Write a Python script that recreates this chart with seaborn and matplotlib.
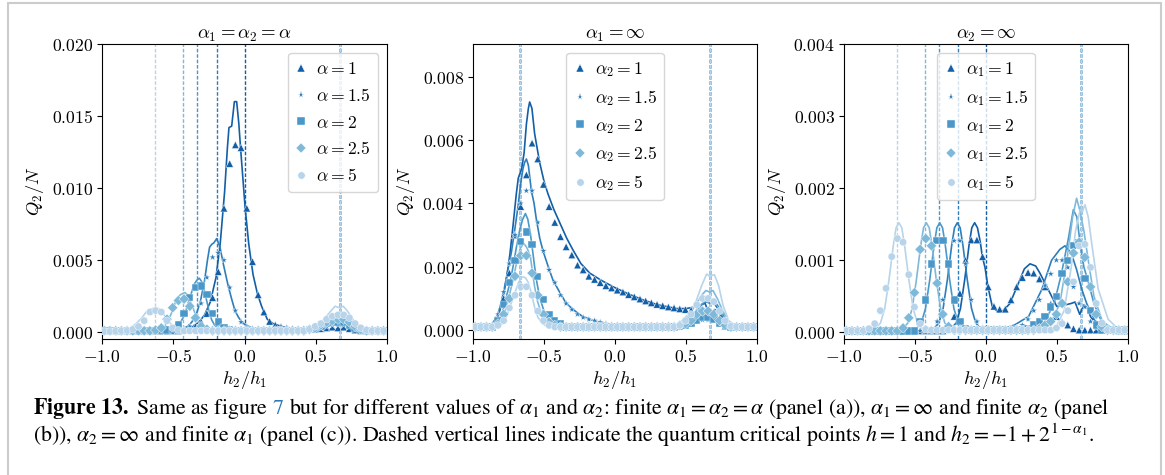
import pandas as pd
import matplotlib
matplotlib.use("Agg")
import matplotlib.pyplot as plt
from matplotlib.patches import Rectangle
from matplotlib.ticker import FuncFormatter, MultipleLocator
import seaborn as sns

# ---------------- data ----------------
a_names = [r"$\alpha=1$", r"$\alpha=1.5$", r"$\alpha=2$", r"$\alpha=2.5$", r"$\alpha=5$"]
b_names = [r"$\alpha_2=1$", r"$\alpha_2=1.5$", r"$\alpha_2=2$", r"$\alpha_2=2.5$", r"$\alpha_2=5$"]
c_names = [r"$\alpha_1=1$", r"$\alpha_1=1.5$", r"$\alpha_1=2$", r"$\alpha_1=2.5$", r"$\alpha_1=5$"]

# critical points h2 = -1 + 2^(1-alpha), in units of the x axis
a_crit = [0.0, -0.195, -0.333, -0.431, -0.625]
c_crit = [0.0, -0.195, -0.333, -0.431, -0.625]
b_crit = [-0.667, -0.667, -0.667, -0.667, -0.667]
h_crit = 0.667

# positions of the finite size points (same for every series)
marker_h = [-0.984, -0.944, -0.904, -0.864, -0.824, -0.784, -0.744, -0.704, -0.664, -0.624,
            -0.584, -0.544, -0.504, -0.464, -0.424, -0.384, -0.344, -0.304, -0.264, -0.224,
            -0.184, -0.144, -0.104, -0.064, -0.024, 0.016, 0.056, 0.096, 0.136, 0.176,
            0.216, 0.256, 0.296, 0.336, 0.376, 0.416, 0.456, 0.496, 0.536, 0.576,
            0.616, 0.656, 0.696, 0.736, 0.776, 0.816, 0.856, 0.896, 0.936, 0.976]

# panel (a): alpha1 = alpha2 = alpha
a_h1 = [-1.0, -0.6, -0.45, -0.38, -0.32, -0.28, -0.24, -0.2, -0.17, -0.14, -0.12, -0.109, -0.09, -0.071,
        -0.055, -0.04, -0.027, -0.01, 0.004, 0.03, 0.06, 0.09, 0.12, 0.16, 0.2, 0.26, 0.35, 0.45, 0.52,
        0.58, 0.63, 0.66, 0.7, 0.75, 0.82, 0.9, 1.0]
a_q1 = [0.0001, 0.0001, 0.00015, 0.0003, 0.0007, 0.0012, 0.0021, 0.0038, 0.0062, 0.0097, 0.0128, 0.0142,
        0.0143, 0.0160, 0.0160, 0.0145, 0.0127, 0.0105, 0.0087, 0.0061, 0.0040, 0.0027, 0.0018, 0.0009,
        0.0006, 0.0004, 0.00025, 0.0002, 0.0003, 0.0004, 0.0005, 0.00045, 0.0005, 0.0003, 0.00015, 0.0001, 0.0001]
a_h15 = [-1.0, -0.6, -0.5, -0.44, -0.4, -0.37, -0.34, -0.31, -0.28, -0.26, -0.245, -0.23, -0.215, -0.195,
         -0.172, -0.15, -0.13, -0.114, -0.09, -0.067, -0.04, -0.008, 0.05, 0.1, 0.2, 0.35, 0.45, 0.52, 0.58,
         0.63, 0.66, 0.7, 0.75, 0.82, 0.9, 1.0]
a_q15 = [0.0001, 0.0001, 0.00012, 0.0002, 0.0004, 0.0007, 0.0012, 0.0021, 0.0036, 0.0050, 0.0059, 0.0061,
         0.0062, 0.0065, 0.0059, 0.0048, 0.0039, 0.0032, 0.0023, 0.0015, 0.0010, 0.0006, 0.0003, 0.0002,
         0.00015, 0.00015, 0.0002, 0.0004, 0.0006, 0.0008, 0.00075, 0.0008, 0.0005, 0.0002, 0.0001, 0.0001]
a_h2 = [-1.0, -0.65, -0.55, -0.5, -0.46, -0.42, -0.39, -0.37, -0.355, -0.335, -0.317, -0.3, -0.289, -0.275,
        -0.261, -0.245, -0.23, -0.21, -0.19, -0.15, -0.1, 0.0, 0.2, 0.4, 0.5, 0.56, 0.61, 0.645, 0.667, 0.69,
        0.72, 0.77, 0.83, 0.9, 1.0]
a_q2 = [0.0001, 0.0001, 0.00012, 0.0002, 0.0005, 0.0012, 0.0022, 0.0028, 0.0033, 0.0036, 0.00375, 0.0035,
        0.0032, 0.0026, 0.0020, 0.0013, 0.00085, 0.0005, 0.0003, 0.00018, 0.00012, 0.0001, 0.0001, 0.00015,
        0.0003, 0.0006, 0.0009, 0.0011, 0.00105, 0.0011, 0.0009, 0.0005, 0.0002, 0.0001, 0.0001]
a_h25 = [-1.0, -0.75, -0.65, -0.6, -0.56, -0.523, -0.5, -0.488, -0.47, -0.45, -0.43, -0.418, -0.4, -0.382,
         -0.365, -0.347, -0.33, -0.312, -0.28, -0.24, -0.1, 0.2, 0.45, 0.52, 0.58, 0.62, 0.645, 0.667, 0.69,
         0.72, 0.77, 0.83, 0.9, 1.0]
a_q25 = [0.0001, 0.0001, 0.00012, 0.0002, 0.0004, 0.0011, 0.0016, 0.0020, 0.0024, 0.0026, 0.0027, 0.00275,
         0.0026, 0.0022, 0.0018, 0.0013, 0.0008, 0.0005, 0.0002, 0.00012, 0.0001, 0.0001, 0.0002, 0.0005,
         0.0009, 0.0012, 0.0013, 0.00125, 0.0013, 0.0011, 0.0007, 0.0003, 0.00012, 0.0001]
a_h5 = [-1.0, -0.9, -0.85, -0.8, -0.76, -0.72, -0.69, -0.66, -0.635, -0.615, -0.595, -0.57, -0.545, -0.52,
        -0.49, -0.46, -0.42, -0.3, 0.0, 0.3, 0.45, 0.5, 0.55, 0.6, 0.635, 0.667, 0.693, 0.72, 0.76, 0.8,
        0.85, 0.9, 1.0]
a_q5 = [0.00005, 0.0001, 0.00015, 0.0003, 0.0006, 0.0010, 0.0014, 0.0016, 0.00167, 0.00168, 0.0016, 0.0013,
        0.0009, 0.0006, 0.0003, 0.00017, 0.0001, 0.0001, 0.0001, 0.0001, 0.0002, 0.0004, 0.0008, 0.0014,
        0.0018, 0.0017, 0.0018, 0.0015, 0.0009, 0.0004, 0.00015, 0.0001, 0.0001]

a_m1 = [0.00008] * 10 + [0.00008, 0.00008, 0.0001, 0.0001, 0.00015, 0.00025, 0.0004, 0.0007, 0.0013, 0.0024,
        0.0042, 0.0086, 0.0117, 0.0130, 0.0128, 0.0086, 0.0049, 0.0026, 0.0014, 0.00075,
        0.0005, 0.00037, 0.0003, 0.00025, 0.0002, 0.0002, 0.0002, 0.0002, 0.00025, 0.0003,
        0.00035, 0.0003, 0.00035, 0.00025, 0.00015, 0.0001, 0.0001, 0.0001, 0.0001, 0.0001]
a_m15 = [0.0001] * 10 + [0.0001, 0.0001, 0.0001, 0.00012, 0.0002, 0.0004, 0.0009, 0.0020, 0.0038, 0.0052,
         0.0055, 0.0050, 0.0031, 0.0015, 0.0007, 0.0004, 0.00025, 0.0002, 0.00012, 0.00012,
         0.00012, 0.00012, 0.00012, 0.00012, 0.00012, 0.00012, 0.00015, 0.0002, 0.0003, 0.0004,
         0.0005, 0.0005, 0.0005, 0.0004, 0.0002, 0.0001, 0.0001, 0.0001, 0.0001, 0.0001]
a_m2 = [0.0001] * 10 + [0.0001, 0.00015, 0.0002, 0.0005, 0.0013, 0.0024, 0.0031, 0.0032, 0.0026, 0.0013,
        0.0007, 0.00035, 0.0002, 0.00012, 0.00012, 0.00012, 0.00012, 0.00012, 0.00012, 0.00012,
        0.00012, 0.00012, 0.00012, 0.00012, 0.00012, 0.00012, 0.0002, 0.0003, 0.0004, 0.0006,
        0.0007, 0.0007, 0.0007, 0.0005, 0.0003, 0.00015, 0.0001, 0.0001, 0.0001, 0.0001]
a_m25 = [0.0001] * 9 + [0.00015, 0.0003, 0.0009, 0.0017, 0.0022, 0.0023, 0.0018, 0.0010, 0.0004, 0.0002, 0.0001] \
        + [0.0001] * 16 + [0.0002, 0.0003, 0.0005, 0.0007,
                           0.0008, 0.0009, 0.0009, 0.0007, 0.0004, 0.0002, 0.0001, 0.0001, 0.0001, 0.0001]
a_m5 = [0.00005, 0.00005, 0.00008, 0.0001, 0.00012, 0.0002, 0.0004, 0.0008, 0.0014, 0.0015,
        0.0014, 0.0008, 0.0003, 0.00015] + [0.0001] * 22 + [0.0002, 0.0004, 0.0006, 0.0009,
        0.0011, 0.0012, 0.0012, 0.0010, 0.0006, 0.0003, 0.00015, 0.0001, 0.0001, 0.0001]

# panel (b): alpha1 = infinity
b_h1 = [-1.0, -0.9, -0.86, -0.812, -0.79, -0.765, -0.74, -0.718, -0.695, -0.681, -0.657, -0.64, -0.624,
        -0.61, -0.601, -0.585, -0.566, -0.531, -0.5, -0.472, -0.43, -0.39, -0.34, -0.296, -0.24, -0.178,
        -0.1, -0.014, 0.1, 0.2, 0.3, 0.434, 0.5, 0.575, 0.634, 0.655, 0.675, 0.7, 0.72, 0.75, 0.787, 0.85,
        0.9, 1.0]
b_q1 = [0.0001, 0.0001, 0.0002, 0.0006, 0.0010, 0.0016, 0.0024, 0.0033, 0.0043, 0.0048, 0.0051, 0.0056,
        0.0065, 0.0070, 0.0072, 0.0070, 0.0062, 0.0053, 0.0047, 0.0043, 0.0038, 0.0034, 0.0029, 0.00253,
        0.0021, 0.0018, 0.00158, 0.00137, 0.00113, 0.00095, 0.0008, 0.00068, 0.00068, 0.00074, 0.00085,
        0.0006, 0.0005, 0.00065, 0.0006, 0.0004, 0.0002, 0.0001, 0.00008, 0.00005]
b_h15 = [-1.0, -0.9, -0.88, -0.85, -0.824, -0.8, -0.777, -0.75, -0.73, -0.705, -0.683, -0.665, -0.648,
         -0.636, -0.624, -0.61, -0.589, -0.57, -0.554, -0.53, -0.507, -0.47, -0.437, -0.39, -0.343, -0.28,
         -0.225, -0.15, -0.061, 0.1, 0.3, 0.45, 0.52, 0.57, 0.61, 0.64, 0.667, 0.69, 0.72, 0.76, 0.8, 0.87, 1.0]
b_q15 = [0.0001, 0.0001, 0.00012, 0.0003, 0.0005, 0.0009, 0.00137, 0.0020, 0.00245, 0.0032, 0.0039, 0.0046,
         0.0051, 0.0053, 0.0054, 0.0052, 0.0044, 0.0040, 0.0035, 0.0029, 0.0025, 0.0020, 0.00158, 0.0012,
         0.00084, 0.0006, 0.00042, 0.0003, 0.0002, 0.00015, 0.00012, 0.0002, 0.0004, 0.0006, 0.0008, 0.0009,
         0.00085, 0.0009, 0.0007, 0.0004, 0.0002, 0.0001, 0.00005]
b_h2 = [-1.0, -0.9, -0.85, -0.812, -0.79, -0.765, -0.74, -0.718, -0.695, -0.671, -0.65, -0.631, -0.614,
        -0.596, -0.58, -0.566, -0.55, -0.531, -0.5, -0.472, -0.43, -0.35, -0.2, 0.1, 0.35, 0.45, 0.52, 0.57,
        0.61, 0.64, 0.667, 0.69, 0.72, 0.76, 0.8, 0.87, 1.0]
b_q2 = [0.0001, 0.0001, 0.00015, 0.0003, 0.0006, 0.00105, 0.0015, 0.0020, 0.0026, 0.00316, 0.0035, 0.00368,
        0.0035, 0.00305, 0.0025, 0.0020, 0.0015, 0.00105, 0.0006, 0.0003, 0.00018, 0.00012, 0.0001, 0.0001,
        0.0001, 0.0002, 0.0004, 0.0006, 0.0008, 0.00095, 0.0009, 0.00095, 0.0008, 0.0005, 0.0002, 0.0001, 0.00005]
b_h25 = [-1.0, -0.9, -0.85, -0.8, -0.777, -0.75, -0.718, -0.69, -0.665, -0.643, -0.62, -0.596, -0.58,
         -0.566, -0.545, -0.519, -0.49, -0.45, -0.35, 0.0, 0.35, 0.45, 0.52, 0.57, 0.61, 0.64, 0.667, 0.69,
         0.72, 0.76, 0.8, 0.87, 1.0]
b_q25 = [0.0001, 0.0001, 0.00015, 0.0003, 0.00053, 0.0010, 0.00158, 0.0022, 0.0026, 0.00274, 0.0026,
         0.00232, 0.0018, 0.00137, 0.0009, 0.00053, 0.0003, 0.00015, 0.0001, 0.0001, 0.0001, 0.0002, 0.0005,
         0.0008, 0.0011, 0.00125, 0.0012, 0.00125, 0.001, 0.0006, 0.00025, 0.0001, 0.00005]
b_h5 = [-1.0, -0.9, -0.85, -0.8, -0.765, -0.735, -0.706, -0.68, -0.66, -0.648, -0.63, -0.61, -0.589, -0.565,
        -0.542, -0.51, -0.47, -0.35, 0.0, 0.35, 0.45, 0.52, 0.57, 0.61, 0.645, 0.667, 0.70, 0.73, 0.76, 0.8,
        0.87, 1.0]
b_q5 = [0.0001, 0.0001, 0.00015, 0.0003, 0.00042, 0.0008, 0.00116, 0.0015, 0.00165, 0.00168, 0.00165,
        0.0015, 0.00116, 0.0007, 0.0004, 0.0002, 0.0001, 0.0001, 0.0001, 0.0001, 0.0002, 0.0005, 0.0009,
        0.0014, 0.00177, 0.0017, 0.00175, 0.0014, 0.0008, 0.0003, 0.0001, 0.00005]

b_m1 = [0.0001, 0.0001, 0.0001, 0.0001, 0.0004, 0.0010, 0.0018, 0.0030, 0.0039, 0.0049,
        0.0059, 0.0054, 0.0046, 0.0039, 0.0034, 0.00295, 0.00263, 0.00237, 0.00205, 0.0019,
        0.0017, 0.0016, 0.0015, 0.0014, 0.00133, 0.00126, 0.0012, 0.00112, 0.00105, 0.00098,
        0.00092, 0.00086, 0.00081, 0.00077, 0.00073, 0.0007, 0.00067, 0.00065, 0.00063, 0.0006,
        0.00055, 0.00048, 0.0004, 0.00025, 0.00012, 0.0001, 0.0001, 0.0001, 0.0001, 0.0001]
b_m15 = [0.0001, 0.0001, 0.0001, 0.0001, 0.0005, 0.0012, 0.0021, 0.0030, 0.0040, 0.0044,
         0.0044, 0.0034, 0.0025, 0.0019, 0.0015, 0.0011, 0.00084, 0.00065, 0.0005, 0.0004,
         0.00034, 0.0003, 0.00025, 0.0002] + [0.00015] * 13 + [0.0002, 0.00025, 0.0003,
         0.00032, 0.00032, 0.0003, 0.0002, 0.00012, 0.0001, 0.0001, 0.0001, 0.0001, 0.0001]
b_m2 = [0.0001, 0.0001, 0.0001, 0.0001, 0.0003, 0.0008, 0.0015, 0.0022, 0.0028, 0.0031,
        0.0027, 0.0017, 0.00097, 0.0005, 0.0003, 0.0002] + [0.0001] * 20 + [0.00012, 0.00015, 0.0002, 0.0003,
        0.0004, 0.0004, 0.00035, 0.0002, 0.00012, 0.0001, 0.0001, 0.0001, 0.0001, 0.0001]
b_m25 = [0.0001, 0.0001, 0.0001, 0.0001, 0.0002, 0.0005, 0.0010, 0.0017, 0.00235, 0.00235,
         0.0018, 0.0011, 0.0005, 0.00025, 0.00015] + [0.0001] * 21 + [0.00015, 0.0002, 0.0003, 0.0005,
         0.0006, 0.0006, 0.0005, 0.0003, 0.00015, 0.0001, 0.0001, 0.0001, 0.0001, 0.0001]
b_m5 = [0.0001, 0.0001, 0.0001, 0.0001, 0.00015, 0.0003, 0.0007, 0.0011, 0.00137, 0.00137,
        0.0011, 0.0006, 0.0003, 0.00015] + [0.0001] * 22 + [0.00015, 0.0003, 0.0005, 0.0008,
        0.0010, 0.0010, 0.0009, 0.0006, 0.0003, 0.00012, 0.0001, 0.0001, 0.0001, 0.0001]

# panel (c): alpha2 = infinity
c_h1 = [-1.0, -0.6, -0.3, -0.25, -0.21, -0.18, -0.15, -0.12, -0.1, -0.08, -0.06, -0.04, -0.026, -0.007,
        0.014, 0.045, 0.087, 0.12, 0.169, 0.228, 0.27, 0.31, 0.35, 0.38, 0.439, 0.498, 0.556, 0.6, 0.627,
        0.66, 0.69, 0.71, 0.74, 0.79, 0.84, 0.92, 1.0]
c_q1 = [0.0, 0.0, 0.00001, 0.00004, 0.00013, 0.00033, 0.00073, 0.0012, 0.00145, 0.00152, 0.00145, 0.00125,
        0.00105, 0.0009, 0.00063, 0.00035, 0.00028, 0.0003, 0.0004, 0.00068, 0.00088, 0.00095, 0.00092,
        0.00082, 0.00059, 0.00036, 0.00038, 0.0004, 0.00042, 0.00025, 0.00038, 0.00035, 0.0002, 0.00012,
        0.0001, 0.00004, 0.00002]
c_h15 = [-1.0, -0.6, -0.42, -0.372, -0.332, -0.302, -0.272, -0.242, -0.222, -0.202, -0.182, -0.162, -0.132,
         -0.102, -0.072, -0.032, 0.1, 0.2, 0.3, 0.392, 0.462, 0.52, 0.556, 0.6, 0.638, 0.674, 0.709, 0.767,
         0.86, 1.0]
c_q15 = [0.0, 0.0, 0.00001, 0.00004, 0.00013, 0.00033, 0.00073, 0.0012, 0.00145, 0.00152, 0.00145, 0.0012,
         0.00073, 0.00033, 0.00013, 0.00004, 0.00004, 0.0001, 0.00022, 0.00059, 0.001, 0.00115, 0.0012,
         0.0011, 0.00087, 0.0006, 0.0004, 0.00016, 0.00005, 0.00002]
c_h2 = [-1.0, -0.65, -0.496, -0.456, -0.426, -0.396, -0.366, -0.346, -0.326, -0.306, -0.286, -0.256, -0.226,
        -0.196, -0.156, 0.0, 0.3, 0.4, 0.48, 0.53, 0.58, 0.615, 0.64, 0.665, 0.69, 0.72, 0.76, 0.82, 0.9, 1.0]
c_q2 = [0.0, 0.0, 0.00004, 0.00013, 0.00033, 0.00073, 0.0012, 0.00145, 0.00152, 0.00145, 0.0012, 0.00073,
        0.00033, 0.00013, 0.00004, 0.00002, 0.00004, 0.0001, 0.0004, 0.0008, 0.0013, 0.0017, 0.0016, 0.0012,
        0.0009, 0.0007, 0.0004, 0.00012, 0.00003, 0.00002]
c_h25 = [-1.0, -0.75, -0.59, -0.55, -0.52, -0.49, -0.46, -0.44, -0.42, -0.40, -0.38, -0.35, -0.32, -0.29,
         -0.25, 0.0, 0.35, 0.45, 0.52, 0.57, 0.61, 0.638, 0.66, 0.69, 0.72, 0.76, 0.82, 0.9, 1.0]
c_q25 = [0.0, 0.0, 0.00004, 0.00013, 0.00033, 0.00073, 0.0012, 0.00145, 0.00152, 0.00145, 0.0012, 0.00073,
         0.00033, 0.00013, 0.00004, 0.00002, 0.00004, 0.0001, 0.0004, 0.001, 0.0016, 0.00186, 0.0017, 0.0014,
         0.001, 0.0005, 0.00015, 0.00004, 0.00002]
c_h5 = [-1.0, -0.9, -0.783, -0.743, -0.713, -0.683, -0.653, -0.633, -0.613, -0.593, -0.573, -0.543, -0.513,
        -0.483, -0.443, 0.0, 0.45, 0.5, 0.55, 0.6, 0.63, 0.663, 0.68, 0.697, 0.72, 0.744, 0.79, 0.86, 0.93, 1.0]
c_q5 = [0.0, 0.00001, 0.00004, 0.00013, 0.00033, 0.00073, 0.0012, 0.00145, 0.00152, 0.00145, 0.0012,
        0.00073, 0.00033, 0.00013, 0.00004, 0.00002, 0.00003, 0.0001, 0.0003, 0.0009, 0.0014, 0.0017,
        0.00168, 0.00177, 0.0016, 0.00124, 0.0006, 0.00018, 0.00005, 0.00002]

c_m1 = [0.00002] * 18 + [0.00006, 0.00022,
        0.00054, 0.0010, 0.00128, 0.00128, 0.00105, 0.00063, 0.00036, 0.00032, 0.00032, 0.00045,
        0.00063, 0.00076, 0.00083, 0.00082, 0.00074, 0.00063, 0.00039, 0.00022, 0.00014, 0.0001,
        0.00005, 0.00003, 0.00003, 0.00003, 0.00003, 0.00003, 0.00003, 0.00003, 0.00002, 0.00002]
c_m15 = [0.00002] * 15 + [0.00005, 0.00015, 0.00045, 0.00095, 0.00127,
         0.00127, 0.00095, 0.00045, 0.00015, 0.00006, 0.00004, 0.00004, 0.00004, 0.00004, 0.00004,
         0.00006, 0.0001, 0.00018, 0.0003, 0.00045, 0.00065, 0.00081, 0.001, 0.001, 0.0009,
         0.00063, 0.0004, 0.00035, 0.00015, 0.00006, 0.00003, 0.00003, 0.00003, 0.00003, 0.00003]
c_m2 = [0.00002] * 13 + [0.00015, 0.00045, 0.00095, 0.00127, 0.00127, 0.00095, 0.00045,
        0.00015, 0.00005] + [0.00003] * 10 + [0.00005, 0.0001, 0.00015, 0.00022, 0.00035, 0.0005, 0.00082,
        0.0010, 0.0012, 0.00125, 0.00075, 0.0003, 0.0001, 0.00003, 0.00003, 0.00003, 0.00003, 0.00003]
c_m25 = [0.00002] * 10 + [0.00006, 0.0002, 0.00055, 0.00115, 0.0013, 0.0012, 0.00068, 0.00025, 0.00008] \
        + [0.00003] * 15 + [0.00005, 0.0001, 0.00015, 0.00025, 0.0004, 0.0007,
                            0.0011, 0.00125, 0.00104, 0.00063, 0.00025, 0.00008, 0.00003, 0.00003, 0.00003, 0.00003]
c_m5 = [0.00002, 0.00002, 0.00002, 0.00002, 0.00005, 0.00012, 0.0003, 0.00061, 0.00105, 0.0013,
        0.00125, 0.0008, 0.00035, 0.00012, 0.00004] + [0.00003] * 22 + [0.00006, 0.00012, 0.0003,
        0.0007, 0.0012, 0.00122, 0.0009, 0.0004, 0.00013, 0.00003, 0.00003, 0.00003, 0.00003]

# ---------------- style ----------------
sns.set_style("ticks", rc={"axes.edgecolor": "black", "xtick.color": "black", "ytick.color": "black",
                           "text.color": "black", "axes.labelcolor": "black"})
plt.rcParams["font.family"] = ["DejaVu Serif"]
plt.rcParams["mathtext.fontset"] = "cm"

cmap = sns.color_palette("Blues", as_cmap=True)
pal = [cmap(v) for v in (0.82, 0.70, 0.60, 0.45, 0.30)]
shapes = ["^", "*", "s", "D", "o"]
FS = 12.7


def make_frames(names, hs, qs, ms):
    lines = pd.concat([pd.DataFrame({"h": h, "q": q, "s": n}) for n, h, q in zip(names, hs, qs)],
                      ignore_index=True)
    marks = pd.concat([pd.DataFrame({"h": marker_h, "q": m, "s": n}) for n, m in zip(names, ms)],
                      ignore_index=True)
    return lines, marks


def draw_panel(ax, names, hs, qs, ms, crits, title, ylim, ystep, legend_loc):
    lines, marks = make_frames(names, hs, qs, ms)
    for i, xc in enumerate(crits):
        ax.axvline(xc, color=pal[i], ls=(0, (2.6, 1.3)), lw=1.0, zorder=1)
        ax.axvline(h_crit, color=pal[i], ls=(0, (2.6, 1.3)), lw=1.0, zorder=1)
    sns.lineplot(data=lines, x="h", y="q", hue="s", hue_order=names, palette=pal, sort=False,
                 estimator=None, legend=False, lw=1.2, ax=ax, zorder=2)
    sns.scatterplot(data=marks, x="h", y="q", hue="s", style="s", hue_order=names, style_order=names,
                    markers=dict(zip(names, shapes)), palette=pal, s=28, edgecolor="white",
                    linewidth=0.3, ax=ax, zorder=3)
    ax.set_xlim(-1.0, 1.0)
    ax.set_ylim(*ylim)
    ax.xaxis.set_major_locator(MultipleLocator(0.5))
    ax.yaxis.set_major_locator(MultipleLocator(ystep))
    ax.xaxis.set_major_formatter(FuncFormatter(lambda v, _: f"${v:.1f}$"))
    ax.yaxis.set_major_formatter(FuncFormatter(lambda v, _: f"${v:.3f}$"))
    ax.tick_params(labelsize=FS, length=3.5, width=0.8, pad=3)
    ax.set_xlabel(r"$h_2/h_1$", fontsize=FS + 0.5, labelpad=2)
    ax.set_ylabel(r"$Q_2/N$", fontsize=FS + 0.5)
    ax.set_title(title, fontsize=FS + 0.8, pad=3)
    for sp in ax.spines.values():
        sp.set_linewidth(0.8)
    sns.move_legend(ax, legend_loc, title=None, fontsize=FS, handlelength=0.7, handletextpad=0.5,
                    markerscale=1.0, frameon=True)


fig = plt.figure(figsize=(11.65, 4.75), dpi=100)
W, H = 1165, 475
ax_a = fig.add_axes([102 / W, 1 - 339 / H, 285 / W, 295 / H])
ax_b = fig.add_axes([473 / W, 1 - 339 / H, 284 / W, 295 / H])
ax_c = fig.add_axes([844 / W, 1 - 339 / H, 284 / W, 295 / H])

draw_panel(ax_a, a_names, [a_h1, a_h15, a_h2, a_h25, a_h5], [a_q1, a_q15, a_q2, a_q25, a_q5],
           [a_m1, a_m15, a_m2, a_m25, a_m5], a_crit, r"$\alpha_1=\alpha_2=\alpha$",
           (-0.00047, 0.020), 0.005, "upper right")
draw_panel(ax_b, b_names, [b_h1, b_h15, b_h2, b_h25, b_h5], [b_q1, b_q15, b_q2, b_q25, b_q5],
           [b_m1, b_m15, b_m2, b_m25, b_m5], b_crit, r"$\alpha_1=\infty$",
           (-0.00028, 0.00903), 0.002, "upper center")
draw_panel(ax_c, c_names, [c_h1, c_h15, c_h2, c_h25, c_h5], [c_q1, c_q15, c_q2, c_q25, c_q5],
           [c_m1, c_m15, c_m2, c_m25, c_m5], c_crit, r"$\alpha_2=\infty$",
           (-0.000093, 0.004), 0.001, "upper center")

# frame around the figure, like the journal page
fig.add_artist(Rectangle((8 / W, -0.2), (1161 - 8) / W, 1.2 - 3 / H, transform=fig.transFigure,
                         fill=False, edgecolor="#cccccc", lw=1.5))

# caption, sized so that the first line spans about the same width as in the page
cap_kw = dict(fontsize=12.0, family="STIXGeneral", math_fontfamily="stix", va="baseline")
renderer = fig.canvas.get_renderer()


def text_width(s):
    t = fig.text(0, 0, s, **cap_kw)
    w = t.get_window_extent(renderer).width
    t.remove()
    return w / fig.bbox.width


x0 = 33 / W
y1 = 1 - 414 / H
y2 = 1 - 442 / H
head = r"$\mathbf{Figure\ 13.}$ Same as figure"
rest1 = (r"but for different values of $\alpha_1$ and $\alpha_2$: finite $\alpha_1=\alpha_2=\alpha$ "
         r"(panel (a)), $\alpha_1=\infty$ and finite $\alpha_2$ (panel")
line2 = (r"(b)), $\alpha_2=\infty$ and finite $\alpha_1$ (panel (c)). Dashed vertical lines indicate the "
         r"quantum critical points $h=1$ and $h_2=-1+2^{1-\alpha_1}$.")
cap_kw["fontsize"] *= ((1105 - 33) / W) / text_width(head + " 7 " + rest1)

fig.text(x0, y1, head, **cap_kw)
fig.text(x0 + text_width(head + " 7") - text_width("7"), y1, "7", color="#2b7bba", **cap_kw)
fig.text(x0 + text_width(head + " 7 b") - text_width("b"), y1, rest1, **cap_kw)
fig.text(x0, y2, line2, **cap_kw)

fig.savefig("out.png", dpi=100)
